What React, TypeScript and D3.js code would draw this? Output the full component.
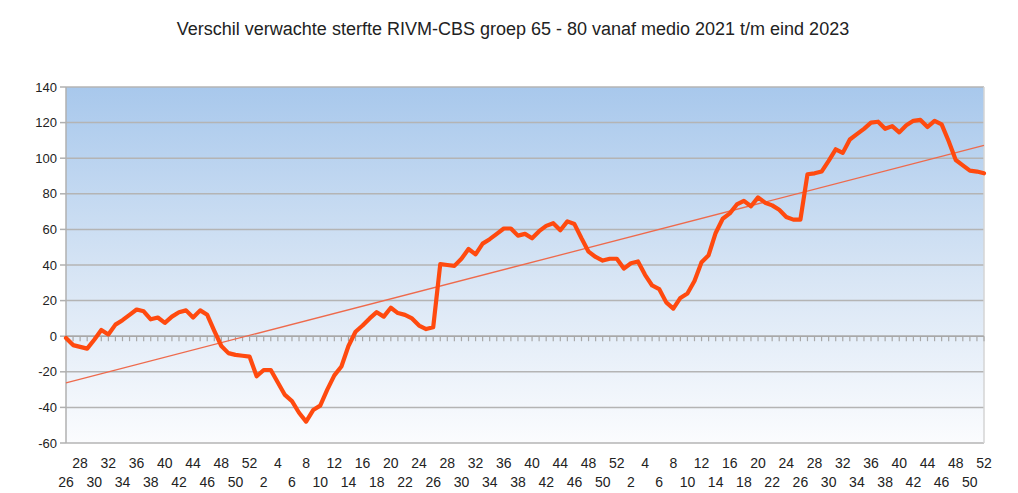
import React, { useEffect, useRef } from "react";
import * as d3 from "d3";

const TITLE = "Verschil verwachte sterfte RIVM-CBS groep 65 - 80 vanaf medio 2021 t/m eind 2023";

// weeks: 2021 wk26..52, 2022 wk1..52, 2023 wk1..52
const weeks2021 = d3.range(26, 53);
const weeks2022 = d3.range(1, 53);
const weeks2023 = d3.range(1, 53);
const weekLabels: number[] = [...weeks2021, ...weeks2022, ...weeks2023];

const values: number[] = [
  -1, -5, -6, -7, -2, 3.5, 1, 6.5, 9, 12, 15, 14, 9.5, 10.5, 7.5, 11, 13.5, 14.5, 10.5, 14.5,
  12, 3, -5.5, -9.5, -10.5, -11, -11.5, -22.5, -19, -19, -26, -33, -36.5, -43, -48, -41.5, -39, -30, -22, -17,
  -5.5, 2.5, 6, 10, 13.5, 11, 16, 13, 12, 10, 6, 4, 5, 40.5, 40, 39.5, 43.5, 49, 46, 52,
  54.5, 57.5, 60.5, 60.5, 56.5, 57.5, 55, 59, 62, 63.5, 59.5, 64.5, 63, 55, 47.5, 44.5, 42.5, 43.5, 43.5, 38,
  41, 42, 34.5, 28.5, 26.5, 19, 15.5, 21.5, 24, 31, 41.5, 45.5, 58, 66, 69, 74, 76, 73, 78, 75,
  73.5, 71, 67, 65.5, 65.5, 91, 91.5, 92.5, 98.5, 105, 103, 110.5, 113.5, 116.5, 120, 120.5, 116.5, 118, 114.5, 118.5,
  121, 121.5, 117.5, 121, 119, 109.5, 99, 96, 93, 92.5, 91.5,
];

const trendStart = -26.2;
const trendEnd = 107.2;

const yTicks = d3.range(-60, 141, 20);

export default function App() {
  const ref = useRef<SVGSVGElement>(null);

  useEffect(() => {
    const svg = d3.select(ref.current);
    svg.selectAll("*").remove();
    const W = 1018, H = 493;
    const left = 66, right = 984, top = 87, bottom = 443;

    const idx = d3.range(values.length);
    const x = d3.scaleLinear().domain([0, values.length - 1]).range([left, right]);
    const y = d3.scaleLinear().domain([-60, 140]).range([bottom, top]);

    const defs = svg.append("defs");
    const grad = defs.append("linearGradient").attr("id", "bg").attr("x1", 0).attr("y1", 0).attr("x2", 0).attr("y2", 1);
    grad.append("stop").attr("offset", "0%").attr("stop-color", "#a8c8ec");
    grad.append("stop").attr("offset", "55%").attr("stop-color", "#d9e6f5");
    grad.append("stop").attr("offset", "100%").attr("stop-color", "#fbfcfe");

    svg.append("rect").attr("width", W).attr("height", H).attr("fill", "#ffffff");
    svg.append("rect").attr("x", left).attr("y", top).attr("width", right - left).attr("height", bottom - top).attr("fill", "url(#bg)");

    // title
    svg.append("text").attr("x", 513).attr("y", 35).attr("text-anchor", "middle")
      .attr("font-family", "'Liberation Sans', Arial, sans-serif").attr("font-size", 18).attr("fill", "#222")
      .text(TITLE);

    // grid lines
    svg.append("g").selectAll("line").data(yTicks).join("line")
      .attr("x1", left).attr("x2", right).attr("y1", (d) => y(d)).attr("y2", (d) => y(d))
      .attr("stroke", "#b4b4b4").attr("stroke-width", 1.5);

    // right border
    svg.append("line").attr("x1", right).attr("x2", right).attr("y1", top).attr("y2", bottom)
      .attr("stroke", "#d4d4d4").attr("stroke-width", 1.5);

    // left axis
    svg.append("line").attr("x1", left).attr("x2", left).attr("y1", top).attr("y2", bottom)
      .attr("stroke", "#b0b0b0").attr("stroke-width", 1.5);
    svg.append("g").selectAll("line").data(yTicks).join("line")
      .attr("x1", left - 6).attr("x2", left).attr("y1", (d) => y(d)).attr("y2", (d) => y(d))
      .attr("stroke", "#b0b0b0").attr("stroke-width", 1.5);
    svg.append("g").selectAll("text").data(yTicks).join("text")
      .attr("x", left - 9).attr("y", (d) => y(d) + 4.5).attr("text-anchor", "end")
      .attr("font-family", "'Liberation Sans', Arial, sans-serif").attr("font-size", 13).attr("fill", "#222")
      .text((d) => d);

    // zero axis with ticks
    svg.append("line").attr("x1", left).attr("x2", right).attr("y1", y(0)).attr("y2", y(0))
      .attr("stroke", "#a8a8a8").attr("stroke-width", 1.5);
    svg.append("g").selectAll("line").data(idx).join("line")
      .attr("x1", (d) => x(d)).attr("x2", (d) => x(d)).attr("y1", y(0)).attr("y2", y(0) + 5)
      .attr("stroke", "#a8a8a8").attr("stroke-width", 1.2);

    // x labels (every other week, alternating rows)
    const labIdx = idx.filter((i) => i % 2 === 0);
    svg.append("g").selectAll("text").data(labIdx).join("text")
      .attr("x", (d) => x(d)).attr("y", (d) => ((d / 2) % 2 === 1 ? 468 : 487))
      .attr("text-anchor", "middle")
      .attr("font-family", "'Liberation Sans', Arial, sans-serif").attr("font-size", 14).attr("fill", "#222")
      .text((d) => weekLabels[d]);

    // trend line
    svg.append("line").attr("x1", x(0)).attr("x2", x(values.length - 1))
      .attr("y1", y(trendStart)).attr("y2", y(trendEnd))
      .attr("stroke", "#ee6a4c").attr("stroke-width", 1.3);

    // main line
    const line = d3.line<number>().x((_, i) => x(i)).y((d) => y(d));
    svg.append("path").datum(values).attr("d", line)
      .attr("fill", "none").attr("stroke", "#ff4a0f").attr("stroke-width", 4.2)
      .attr("stroke-linejoin", "round").attr("stroke-linecap", "round");
  }, []);

  return (
    <svg ref={ref} width={1018} height={493}
      style={{ position: "absolute", left: 0, top: 0, display: "block" }} />
  );
}
